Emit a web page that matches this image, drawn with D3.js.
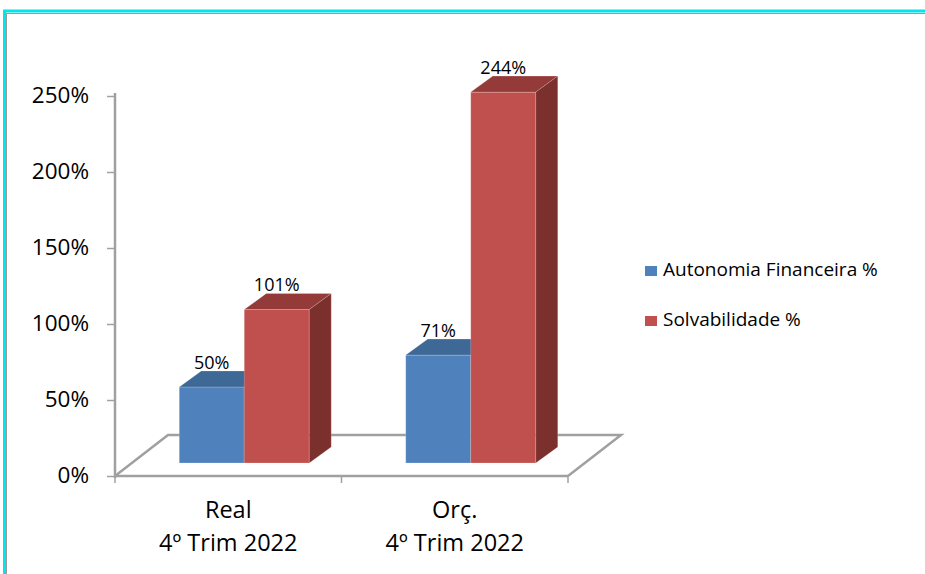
<!DOCTYPE html>
<html>
<head>
<meta charset="utf-8">
<script src="https://cdn.jsdelivr.net/npm/d3@7"></script>
<style>
  body { margin: 0; background: #fff; }
  svg { display: block; font-family: "Open Sans", sans-serif; }
</style>
</head>
<body>
<div class="canvas"></div>
<script>
// data
var categories = [["Real", "4º Trim 2022"], ["Orç.", "4º Trim 2022"]]
var seriesNames = ["Autonomia Financeira %", "Solvabilidade %"]
var autonomia = [0.50, 0.71]
var solvabilidade = [1.01, 2.44]
var yTicks = [0, 0.5, 1, 1.5, 2, 2.5]

var colors = {
  front: ["#4F81BD", "#C0504D"],
  top:   ["#3E6896", "#943B39"],
  side:  ["#355A86", "#7C302E"]
}

var width = 925, height = 574

var svg = d3.select(".canvas")
  .append("svg")
  .attr("width", width)
  .attr("height", height)

// frame (cyan with a grey inner line)
svg.append("line").attr("x1", 3).attr("x2", width).attr("y1", 11).attr("y2", 11)
  .attr("stroke", "#00E5EE").attr("stroke-width", 3)
svg.append("line").attr("x1", 6).attr("x2", width).attr("y1", 13.5).attr("y2", 13.5)
  .attr("stroke", "#9a9a9a").attr("stroke-width", 1)
svg.append("line").attr("x1", 4.5).attr("x2", 4.5).attr("y1", 10).attr("y2", height)
  .attr("stroke", "#00E5EE").attr("stroke-width", 3)
svg.append("line").attr("x1", 6.5).attr("x2", 6.5).attr("y1", 13).attr("y2", height)
  .attr("stroke", "#9a9a9a").attr("stroke-width", 1)

// scales
var x = d3.scaleBand()
  .domain(d3.range(categories.length))
  .range([115, 568])

var xs = d3.scaleBand()
  .domain(seriesNames)
  .range([-65, 65])

var y = d3.scaleLinear()
  .domain([0, 2.5])
  .range([476, 96])

// 3d offsets
var floorDx = 53, floorDy = -41
var barOffX = 16, barOffY = -13
var depthX = 22, depthY = -16

var axisColor = "#A0A0A0"

// floor
svg.append("path")
  .attr("d", "M" + x.range()[0] + "," + y(0) +
    "L" + (x.range()[0] + floorDx) + "," + (y(0) + floorDy) +
    "L" + (x.range()[1] + floorDx) + "," + (y(0) + floorDy) +
    "L" + x.range()[1] + "," + y(0))
  .attr("fill", "none")
  .attr("stroke", axisColor)
  .attr("stroke-width", 2.5)

// y axis
var yAxis = d3.axisLeft(y)
  .tickValues(yTicks)
  .tickSize(8)
  .tickPadding(18)
  .tickFormat(d3.format(".0%"))

var gy = svg.append("g")
  .attr("transform", "translate(115,0)")
  .call(yAxis)
gy.select(".domain").attr("stroke", axisColor).attr("stroke-width", 2.5)
  .attr("d", "M0," + (y(2.5) - 3) + "V" + (y(0) + 2))
gy.selectAll(".tick line").attr("stroke", axisColor).attr("stroke-width", 1.5)
gy.selectAll(".tick text")
  .attr("font-family", "Open Sans")
  .attr("font-size", 22.5)
  .attr("fill", "#000")
  .attr("dy", "0.3em")

// x axis
var gx = svg.append("g")
  .attr("transform", "translate(0," + y(0) + ")")
gx.append("line").attr("x1", 115).attr("x2", 568)
  .attr("stroke", axisColor).attr("stroke-width", 2.5)
gx.selectAll(".xt")
  .data([0, 1, 2])
  .enter()
  .append("line")
  .attr("x1", function (d) { return 115 + d * x.bandwidth() })
  .attr("x2", function (d) { return 115 + d * x.bandwidth() })
  .attr("y1", 0).attr("y2", 7)
  .attr("stroke", axisColor).attr("stroke-width", 1.5)

var catText = svg.selectAll(".cat")
  .data(categories)
  .enter()
  .append("text")
  .attr("text-anchor", "middle")
  .attr("font-size", 23.5)
  .attr("fill", "#000")
catText.each(function (d, i) {
  var t = d3.select(this)
  d.forEach(function (line, j) {
    t.append("tspan")
      .attr("x", x(i) + x.bandwidth() / 2)
      .attr("y", 518 + j * 33)
      .text(line)
  })
})

// bars
var bars = []
categories.forEach(function (c, i) {
  bars.push({ cat: i, s: 0, value: autonomia[i] })
  bars.push({ cat: i, s: 1, value: solvabilidade[i] })
})

var gb = svg.append("g")
bars.forEach(function (b) {
  var x0 = x(b.cat) + x.bandwidth() / 2 + xs(seriesNames[b.s]) + barOffX
  var x1 = x0 + xs.bandwidth()
  var yb = y(0) + barOffY
  var yt = y(b.value) + barOffY
  var g = gb.append("g")
  g.append("rect")
    .attr("x", x0).attr("y", yt)
    .attr("width", x1 - x0).attr("height", yb - yt)
    .attr("fill", colors.front[b.s])
    .attr("stroke", "rgba(255,255,255,0.25)").attr("stroke-width", 0.8)
  g.append("path")
    .attr("d", "M" + x0 + "," + yt + "L" + x1 + "," + yt +
      "L" + (x1 + depthX) + "," + (yt + depthY) +
      "L" + (x0 + depthX) + "," + (yt + depthY) + "Z")
    .attr("fill", colors.top[b.s])
    .attr("stroke", "rgba(255,255,255,0.25)").attr("stroke-width", 0.8)
  g.append("path")
    .attr("d", "M" + x1 + "," + yt + "L" + (x1 + depthX) + "," + (yt + depthY) +
      "L" + (x1 + depthX) + "," + (yb + depthY) + "L" + x1 + "," + yb + "Z")
    .attr("fill", colors.side[b.s])
    .attr("stroke", "rgba(255,255,255,0.2)").attr("stroke-width", 0.8)
  g.append("text")
    .attr("x", (x0 + x1) / 2)
    .attr("y", yt + depthY - 2)
    .attr("text-anchor", "middle")
    .attr("font-size", 18)
    .attr("fill", "#000")
    .text(d3.format(".0%")(b.value))
})

// legend
var legend = svg.append("g")
legend.selectAll("rect")
  .data(seriesNames)
  .enter()
  .append("rect")
  .attr("x", 645)
  .attr("y", function (d, i) { return 266 + i * 50 })
  .attr("width", 12).attr("height", 10)
  .attr("fill", function (d, i) { return colors.front[i] })
legend.selectAll("text")
  .data(seriesNames)
  .enter()
  .append("text")
  .attr("x", 663)
  .attr("y", function (d, i) { return 276 + i * 50 })
  .attr("font-size", 19)
  .attr("fill", "#000")
  .text(function (d) { return d })
</script>
</body>
</html>
